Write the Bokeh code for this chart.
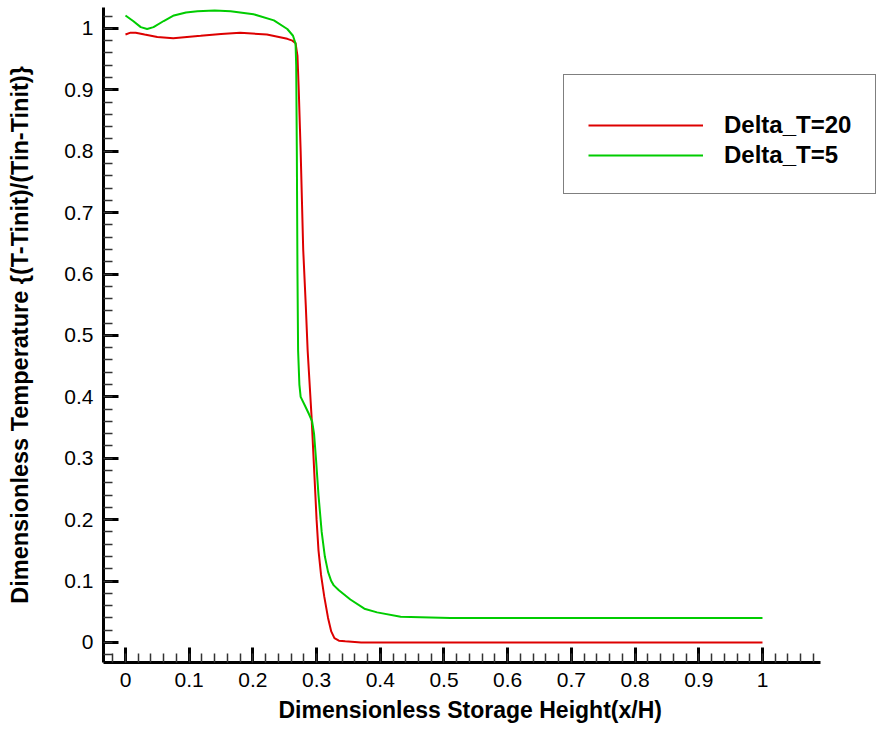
from bokeh.plotting import figure
from bokeh.models import (Range1d, SingleIntervalTicker, CustomJSTickFormatter,
                          Legend, LegendItem, Title)
from bokeh.embed import file_html
from bokeh.resources import INLINE

# ---- data ----
red_x = [0.000, 0.008, 0.016, 0.030, 0.050, 0.075, 0.118, 0.150, 0.180, 0.222,
         0.254, 0.262, 0.267, 0.270, 0.272, 0.275, 0.279, 0.283, 0.286, 0.292,
         0.297, 0.300, 0.303, 0.307, 0.312, 0.318, 0.323, 0.328, 0.335, 0.345,
         0.370, 0.500, 1.000]
red_y = [0.990, 0.993, 0.993, 0.990, 0.986, 0.984, 0.988, 0.991, 0.993, 0.990,
         0.983, 0.980, 0.976, 0.955, 0.900, 0.800, 0.640, 0.550, 0.475, 0.370,
         0.264, 0.200, 0.150, 0.110, 0.075, 0.040, 0.018, 0.007, 0.003, 0.002,
         0.000, 0.000, 0.000]

green_x = [0.000, 0.012, 0.024, 0.034, 0.044, 0.060, 0.076, 0.095, 0.113, 0.140,
           0.165, 0.201, 0.233, 0.254, 0.263, 0.267, 0.268, 0.269, 0.270, 0.271,
           0.273, 0.275, 0.282, 0.288, 0.293, 0.296, 0.299, 0.303, 0.308, 0.313,
           0.318, 0.323, 0.327, 0.335, 0.353, 0.375, 0.395, 0.432, 0.510, 1.000]
green_y = [1.021, 1.012, 1.002, 0.999, 1.002, 1.012, 1.021, 1.026, 1.028, 1.029,
           1.028, 1.023, 1.013, 0.999, 0.988, 0.975, 0.940, 0.800, 0.600, 0.475,
           0.420, 0.400, 0.385, 0.372, 0.360, 0.340, 0.300, 0.240, 0.180, 0.140,
           0.115, 0.100, 0.093, 0.085, 0.070, 0.055, 0.049, 0.042, 0.040, 0.040]

series_names = ["Delta_T=20", "Delta_T=5"]
x_title = "Dimensionless Storage Height(x/H)"
y_title = "Dimensionless Temperature {(T-Tinit)/(Tin-Tinit)}"

X_AXIS_END = 1.091

p = figure(width=882, height=733, output_backend="svg", toolbar_location=None,
           x_range=Range1d(-0.0345, 1.1884), y_range=Range1d(-0.0326, 1.034),
           min_border_left=103, min_border_right=0, min_border_top=7,
           min_border_bottom=71)
p.outline_line_color = None
p.grid.visible = False
p.background_fill_color = "white"
p.border_fill_color = "white"

fmt = CustomJSTickFormatter(code="return String(Number(tick.toFixed(2)));")
for ax in (p.xaxis[0], p.yaxis[0]):
    ax.ticker = SingleIntervalTicker(interval=0.1, num_minor_ticks=5)
    ax.formatter = fmt
    ax.axis_line_width = 3
    ax.axis_line_color = "black"
    ax.major_tick_in = 15
    ax.major_tick_out = 0
    ax.minor_tick_in = 9
    ax.minor_tick_out = 0
    ax.major_tick_line_width = 3
    ax.minor_tick_line_width = 1.5
    ax.major_tick_line_color = "black"
    ax.minor_tick_line_color = "#333333"
    ax.major_label_text_font = "Liberation Sans"
    ax.major_label_text_font_size = "21px"
    ax.major_label_text_color = "black"
    ax.major_label_standoff = 10
    ax.axis_label_text_font = "Liberation Sans"
    ax.axis_label_text_font_style = "bold"
    ax.axis_label_text_color = "black"

p.xaxis.bounds = (-0.0345, X_AXIS_END)
p.yaxis.axis_label = y_title
p.yaxis.axis_label_text_font_size = "23.5px"
p.yaxis.axis_label_standoff = 28

xt = Title(text=x_title, align="left", offset=175,
           text_font="Liberation Sans", text_font_style="bold",
           text_font_size="23px", text_color="black", standoff=10)
p.add_layout(xt, "below")

r1 = p.line(red_x, red_y, line_color="#dd0000", line_width=2)
r2 = p.line(green_x, green_y, line_color="#00cc00", line_width=2)

legend = Legend(items=[LegendItem(label=series_names[0], renderers=[r1]),
                       LegendItem(label=series_names[1], renderers=[r2])],
                location=(460, 468), orientation="vertical")
legend.title = " "
legend.title_text_font_size = "8px"
legend.title_standoff = 3
legend.border_line_color = "black"
legend.border_line_width = 1
legend.background_fill_color = "white"
legend.background_fill_alpha = 1
legend.padding = 24
legend.margin = 0
legend.spacing = 2
legend.glyph_width = 115
legend.glyph_height = 26
legend.label_height = 26
legend.label_width = 120
legend.label_standoff = 21
legend.label_text_font = "Liberation Sans"
legend.label_text_font_style = "bold"
legend.label_text_font_size = "24px"
legend.label_text_color = "black"
p.add_layout(legend, "center")

open("out.html", "w").write(file_html(p, INLINE))
